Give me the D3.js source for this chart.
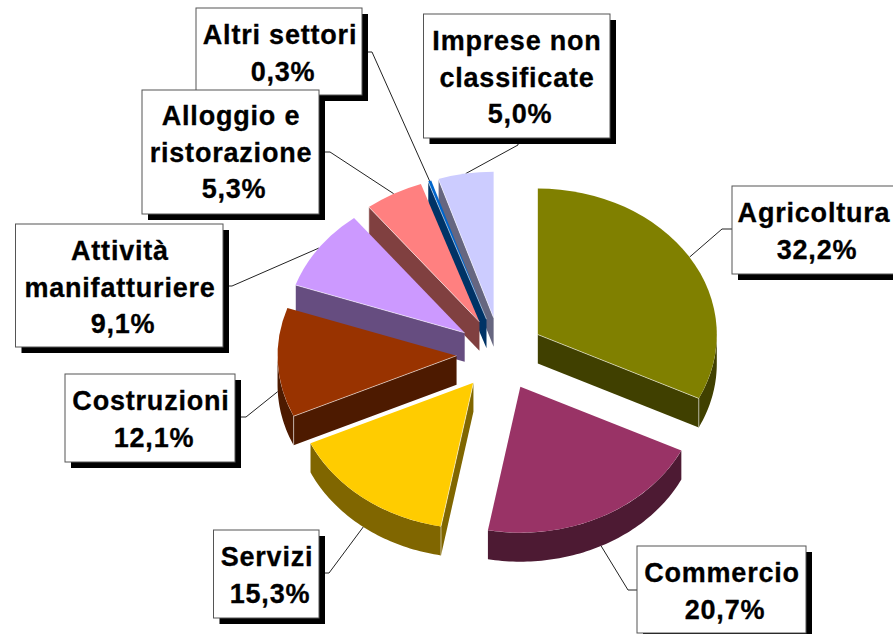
<!DOCTYPE html>
<html>
<head>
<meta charset="utf-8">
<script src="https://cdn.jsdelivr.net/npm/d3@7"></script>
<style>
    html, body { margin: 0; background: #fff; overflow: hidden; }
    svg { display: block; }
    text { font-family: "Liberation Sans", Arial, sans-serif; font-weight: bold; font-size: 27px; letter-spacing: 0.8px; fill: #000; stroke: #000; stroke-width: 0.3px; text-anchor: middle; }
</style>
</head>
<body>
<script>
// slices, clockwise from 12 o'clock
var categories = ["Agricoltura", "Commercio", "Servizi", "Costruzioni", "Attività manifatturiere", "Alloggio e ristorazione", "Altri settori", "Imprese non classificate"];
var values = [32.2, 20.7, 15.3, 12.1, 9.1, 5.3, 0.3, 5.0];
var valueLabels = ["32,2%", "20,7%", "15,3%", "12,1%", "9,1%", "5,3%", "0,3%", "5,0%"];
var topColors = ["#808000", "#993366", "#FFCC00", "#993300", "#CC99FF", "#FF8080", "#0066CC", "#CCCCFF"];
var wallColors = ["#404000", "#4D1A33", "#806600", "#4D1A00", "#664D80", "#804040", "#003366", "#666680"];

// label boxes: x0, y0, x1, y1, elbow of the leader, end of the leader on the box, text lines and baselines
var labelBoxes = [
    { i: 6, box: [196, 8, 362, 95], elbow: [372, 52], end: [362, 52], lines: ["Altri settori"], base: 44, cx: 280 },
    { i: 7, box: [423.5, 14, 610, 138], elbow: [518, 145], end: [518, 138], lines: ["Imprese non", "classificate"], base: 50, cx: 517 },
    { i: 5, box: [142, 90, 319, 214], elbow: [330, 152], end: [319, 152], lines: ["Alloggio e", "ristorazione"], base: 125, cx: 231 },
    { i: 4, box: [15.5, 224, 223, 347], elbow: [232, 286], end: [223, 286], lines: ["Attività", "manifatturiere"], base: 260, cx: 120 },
    { i: 3, box: [65, 374, 235, 462], elbow: [246, 417], end: [235, 417], lines: ["Costruzioni"], base: 410, cx: 151 },
    { i: 2, box: [213.5, 530, 319, 618], elbow: [329, 573], end: [319, 573], lines: ["Servizi"], base: 566, cx: 267 },
    { i: 1, box: [637, 546, 806, 633], elbow: [628, 590], end: [637, 590], lines: ["Commercio"], base: 582, cx: 722 },
    { i: 0, box: [732, 186, 898, 274], elbow: [722, 229], end: [732, 229], lines: ["Agricoltura"], base: 222, cx: 814 }
];

var width = 893, height = 634;
var cx = 500.5, cy = 354;      // centre of the pie before the slices are pulled out
var rx = 179, ry = 146;        // tilted ellipse
var explodeX = 44, explodeY = 36.6;
var depth = 29;
var lineHeight = 36.5;

var svg = d3.select("body")
    .append("svg")
    .attr("width", width)
    .attr("height", height);

var slices = d3.pie().sort(null).value(function(d) { return d; })(values);

var arc = d3.arc().innerRadius(0).outerRadius(rx);
var line = d3.line();

slices.forEach(function(s) {
    s.mid = (s.startAngle + s.endAngle) / 2;
    s.ox = cx + explodeX * Math.sin(s.mid);
    s.oy = cy - explodeY * Math.cos(s.mid);
});

function rimPoint(s, a, dy) {
    return [s.ox + rx * Math.sin(a), s.oy - ry * Math.cos(a) + dy];
}

// outer wall between two angles, only the part facing the viewer
function rimWall(s) {
    var from = Math.max(s.startAngle, Math.PI / 2);
    var to = Math.min(s.endAngle, 3 * Math.PI / 2);
    if (from >= to) return null;
    var angles = d3.range(from, to, 0.02).concat([to]);
    var up = angles.map(function(a) { return rimPoint(s, a, 0); });
    var down = angles.slice().reverse().map(function(a) { return rimPoint(s, a, depth); });
    return line(up.concat(down)) + "Z";
}

// leaders go under the boxes
labelBoxes.forEach(function(l) {
    var s = slices[l.i];
    var start = rimPoint(s, s.mid, Math.cos(s.mid) < 0 ? depth : 0);
    svg.append("path")
        .attr("d", line([start, l.elbow, l.end]))
        .attr("fill", "none")
        .attr("stroke", "#222")
        .attr("stroke-width", 1);
});

// back to front
var drawOrder = [7, 6, 5, 4, 3, 2, 0, 1];
var pie = svg.append("g").attr("class", "pie");

drawOrder.forEach(function(i) {
    var s = slices[i];
    var g = pie.append("g");
    var apex = [s.ox, s.oy];

    // cut faces: the start edge shows on the left half, the end edge on the right half
    var cuts = [];
    if (Math.sin(s.startAngle) < -0.001) cuts.push(s.startAngle);
    if (Math.sin(s.endAngle) > 0.001) cuts.push(s.endAngle);

    cuts.forEach(function(a) {
        var p = rimPoint(s, a, 0);
        g.append("path")
            .attr("d", line([apex, p, [p[0], p[1] + depth], [apex[0], apex[1] + depth]]) + "Z")
            .attr("fill", wallColors[i]);
    });

    var wall = rimWall(s);
    if (wall) {
        g.append("path").attr("d", wall).attr("fill", wallColors[i]);
    }

    g.append("path")
        .attr("d", arc(s))
        .attr("transform", "translate(" + s.ox + "," + s.oy + ") scale(1," + (ry / rx) + ")")
        .attr("fill", topColors[i]);

    // pale highlight along the cut
    cuts.forEach(function(a) {
        var p = rimPoint(s, a, 0);
        g.append("path")
            .attr("d", line([apex, p, [p[0], p[1] + depth]]))
            .attr("fill", "none")
            .attr("stroke", "#fff")
            .attr("stroke-opacity", 0.55)
            .attr("stroke-width", 1);
    });
});

// label boxes with their hard shadow
labelBoxes.forEach(function(l) {
    var g = svg.append("g").attr("class", "label");
    var b = l.box;

    g.append("rect")
        .attr("x", b[0] + 6).attr("y", b[1] + 6)
        .attr("width", b[2] - b[0]).attr("height", b[3] - b[1])
        .attr("fill", "#000");

    g.append("rect")
        .attr("x", b[0]).attr("y", b[1])
        .attr("width", b[2] - b[0]).attr("height", b[3] - b[1])
        .attr("fill", "#fff")
        .attr("stroke", "#555")
        .attr("stroke-width", 1);

    l.lines.forEach(function(t, k) {
        g.append("text")
            .attr("x", l.cx)
            .attr("y", l.base + k * lineHeight)
            .text(t);
    });

    g.append("text")
        .attr("x", l.cx + 3)
        .attr("y", l.base + l.lines.length * lineHeight)
        .text(valueLabels[l.i]);
});
</script>
</body>
</html>
